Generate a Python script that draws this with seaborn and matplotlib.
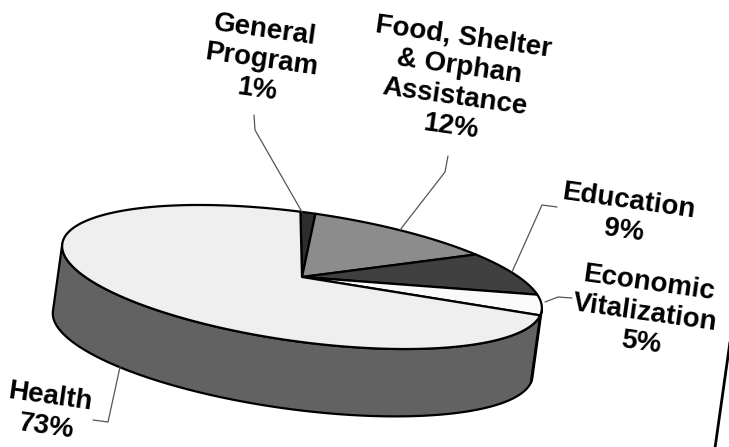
import numpy as np
import matplotlib
matplotlib.use("Agg")
import matplotlib.pyplot as plt
from matplotlib.patches import Polygon
import seaborn as sns

# ---- data ----
categories = ["General\nProgram", "Food, Shelter\n& Orphan\nAssistance", "Education",
              "Economic\nVitalization", "Health"]
values = [1, 12, 9, 5, 73]
top_colors = ["#2e2e2e", "#8c8c8c", "#404040", "#fafafa", "#efefef"]
side_colors = ["#1a1a1a", "#3a3a3a", "#262626", "#666666", "#626262"]

# ---- layout (pixel space) ----
W, H = 729, 447
cx, cy = 302, 277          # pie centre
A, B = 242, 64.5           # ellipse semi axes
DEPTH = 68                 # side wall height
THETA = np.deg2rad(7.9)    # whole-picture tilt
START = -2.5               # start angle (deg, clockwise from top)

label_pos = [(261, 60), (457, 82), (626, 216), (645, 313), (48, 412)]
leaders = [
    [(302, 212), (255, 130), (254, 115)],
    [(400, 230), (445, 172), (448, 156)],
    [(512, 272), (542, 205), (557, 207)],
    [(545, 302), (558, 297), (572, 298)],
    [(120, 367), (108, 422), (93, 420)],
]

sns.set_theme(style="white")
plt.rcParams['font.family'] = ['Liberation Sans', 'DejaVu Sans']

c, s = np.cos(THETA), np.sin(THETA)


def proj(t_deg, z=0.0):
    t = np.deg2rad(np.asarray(t_deg, dtype=float))
    lx = A * np.sin(t)
    ly = -B * np.cos(t) + z
    return np.column_stack([cx + lx * c - ly * s, cy + lx * s + ly * c])


fig = plt.figure(figsize=(W / 100, H / 100), dpi=100)
ax = fig.add_axes([0, 0, 1, 1])
ax.set_xlim(0, W)
ax.set_ylim(H, 0)
ax.axis("off")

total = float(sum(values))
bounds = START + 360 * np.concatenate([[0], np.cumsum(values)]) / total

# side walls (front half: 90..270 deg)
for i in range(len(values)):
    t1, t2 = bounds[i], bounds[i + 1]
    for off in (0, 360, -360):
        lo, hi = max(t1 + off, 90), min(t2 + off, 270)
        if hi > lo:
            ts = np.linspace(lo, hi, 120)
            pts = np.vstack([proj(ts), proj(ts[::-1], DEPTH)])
            ax.add_patch(Polygon(pts, closed=True, facecolor=side_colors[i],
                                 edgecolor="black", lw=1.6, joinstyle="round", zorder=2))

# top wedges
center = np.array([[cx, cy]])
for i in range(len(values)):
    ts = np.linspace(bounds[i], bounds[i + 1], 200)
    pts = np.vstack([center, proj(ts)])
    ax.add_patch(Polygon(pts, closed=True, facecolor=top_colors[i],
                         edgecolor="black", lw=1.6, joinstyle="round", zorder=3))

# labels and leader lines
for i, cat in enumerate(categories):
    pct = values[i] / total * 100
    ax.text(label_pos[i][0], label_pos[i][1], f"{cat}\n{pct:.0f}%",
            ha="center", va="center", multialignment="center",
            rotation=-8, rotation_mode="anchor", fontsize=20,
            fontweight="bold", linespacing=1.2, color="black", zorder=5)
    lx, ly = zip(*leaders[i])
    ax.plot(lx, ly, color="#555555", lw=0.9, zorder=4)

# frame edge at right
ax.plot([715, 731], [448, 335], color="black", lw=2, zorder=4)

fig.savefig("out.png", dpi=100)
